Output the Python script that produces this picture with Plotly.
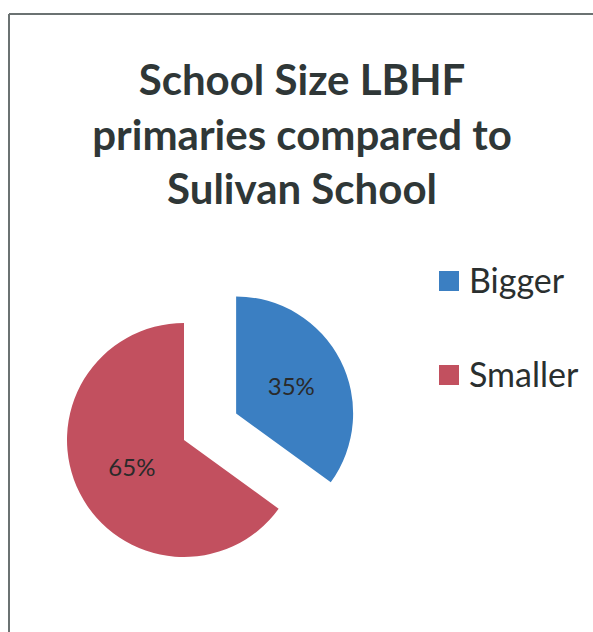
import plotly.graph_objects as go

labels = ["Bigger", "Smaller"]
values = [35, 65]
colors = ["#3b7fc2", "#c2505f"]
pulls = [0.5, 0.0]
title_lines = ["School Size LBHF", "primaries compared to", "Sulivan School"]

W, H = 593, 632


def px(x):
    return x / W


def py(y):
    return 1 - y / H


fig = go.Figure(go.Pie(
    labels=labels,
    values=values,
    pull=pulls,
    sort=False,
    direction="clockwise",
    rotation=0,
    marker=dict(colors=colors, line=dict(width=0)),
    textinfo="percent",
    textposition="inside",
    insidetextorientation="horizontal",
    textfont=dict(family="Lato", size=24, color="#2a2a2a"),
    domain=dict(x=[px(8.5), px(359.5)], y=[py(615.5), py(264.5)]),
    showlegend=False,
    hoverinfo="label+percent",
))

# Chart border (top and left visible in the scan)
fig.add_shape(type="line", xref="paper", yref="paper",
              x0=px(9), x1=1, y0=py(14), y1=py(14),
              line=dict(color="#6b7272", width=2))
fig.add_shape(type="line", xref="paper", yref="paper",
              x0=px(9), x1=px(9), y0=py(14), y1=0,
              line=dict(color="#6b7272", width=2))

# Manual legend with wide spacing
leg_y = [281, 375]
for i, (lab, col) in enumerate(zip(labels, colors)):
    yc = leg_y[i]
    fig.add_shape(type="rect", xref="paper", yref="paper",
                  x0=px(439), x1=px(459),
                  y0=py(yc + 10), y1=py(yc - 10),
                  fillcolor=col, line=dict(width=0))
    fig.add_annotation(text=lab, xref="paper", yref="paper",
                       x=px(467), y=py(yc - 2),
                       xanchor="left", yanchor="middle", showarrow=False,
                       font=dict(family="Lato", size=34, color="#2a2f2f"))

fig.update_layout(
    width=W, height=H,
    margin=dict(l=0, r=0, t=0, b=0),
    paper_bgcolor="#ffffff",
    plot_bgcolor="#ffffff",
    title=dict(
        text="<br>".join(title_lines),
        x=px(302), xanchor="center",
        y=py(95), yanchor="top",
        font=dict(family="Lato", size=42, color="#2f3737", weight="bold"),
    ),
)

fig.write_html(
    "out.html",
    config={"displayModeBar": False},
    post_script="document.body.style.margin='0';document.body.style.overflow='hidden';",
)
